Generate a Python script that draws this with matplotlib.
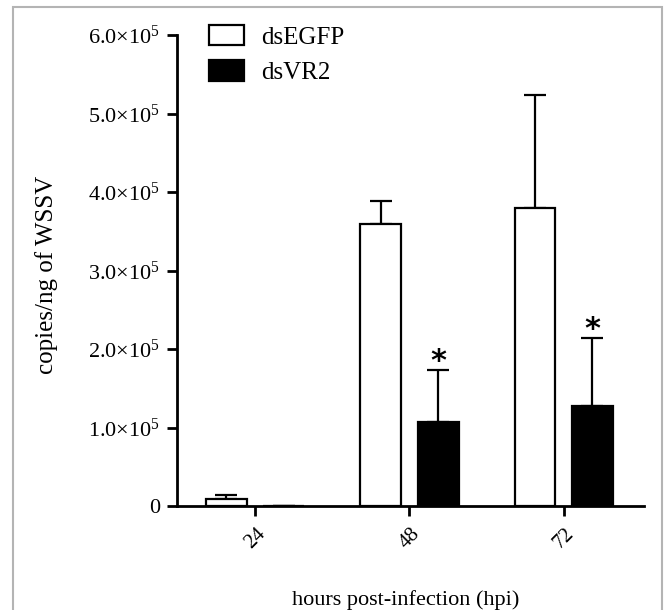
import numpy as np
import matplotlib
matplotlib.use("Agg")
import matplotlib.pyplot as plt
from matplotlib.ticker import FuncFormatter
from matplotlib.patches import Rectangle

plt.rcParams['font.family'] = ['Liberation Serif', 'DejaVu Serif']
plt.rcParams['mathtext.fontset'] = 'custom'
plt.rcParams['mathtext.rm'] = 'Liberation Serif'
plt.rcParams['mathtext.default'] = 'rm'

hpi = ['24', '48', '72']
egfp_mean = [0.09e5, 3.59e5, 3.79e5]
egfp_err = [0.05e5, 0.29e5, 1.45e5]
vr2_mean = [0.004e5, 1.07e5, 1.27e5]
vr2_err = [0.0, 0.66e5, 0.87e5]
significant = [False, True, True]

fig = plt.figure(figsize=(6.68, 6.10), dpi=100)
ax = fig.add_axes([177 / 668, 1 - 506 / 610, (644 - 177) / 668, (506 - 35) / 610])

# grey frame around the figure
fig.patches.append(Rectangle((13 / 668, -0.05), (662 - 13) / 668, 1.05 - 7 / 610,
                             transform=fig.transFigure, fill=False,
                             edgecolor='#b4b4b4', linewidth=1.5))

x = np.arange(len(hpi))
w = 0.265
off = 0.186
lw = 1.6

ax.bar(x - off, egfp_mean, w, color='white', edgecolor='black', linewidth=lw,
       label='dsEGFP', zorder=2)
ax.bar(x + off, vr2_mean, w, color='black', edgecolor='black', linewidth=lw,
       label='dsVR2', zorder=2)
ax.errorbar(x - off, egfp_mean, yerr=[np.zeros(3), egfp_err], fmt='none',
            ecolor='black', elinewidth=lw, capsize=8, capthick=lw, zorder=1)
ax.errorbar(x + off, vr2_mean, yerr=[np.zeros(3), vr2_err], fmt='none',
            ecolor='black', elinewidth=lw, capsize=8, capthick=lw, zorder=1)

for i in range(len(hpi)):
    if significant[i]:
        ax.annotate('*', (x[i] + off, vr2_mean[i] + vr2_err[i]),
                    xytext=(0, -4), textcoords='offset points',
                    ha='center', va='bottom', fontsize=22, fontweight='bold',
                    family='DejaVu Sans')

ax.set_xlim(-0.505, 2.52)
ax.set_ylim(0, 6e5)
ax.set_yticks(np.arange(0, 6.01e5, 1e5))
ax.yaxis.set_major_formatter(FuncFormatter(
    lambda v, p: '0' if v == 0 else f'{v / 1e5:.1f}\u00d710$^{{5}}$'))
ax.set_xticks(x)
ax.set_xticklabels(hpi, rotation=45, fontsize=15)

for s in ['top', 'right']:
    ax.spines[s].set_visible(False)
for s in ['left', 'bottom']:
    ax.spines[s].set_linewidth(2)
ax.tick_params(axis='both', direction='out', width=2, length=7, color='black')
ax.tick_params(axis='y', labelsize=16, pad=5)
ax.tick_params(axis='x', pad=6)

ax.set_ylabel('copies/ng of WSSV', fontsize=18)
ax.yaxis.set_label_coords(-0.255, 0.49)
ax.set_xlabel('hours post-infection (hpi)', fontsize=16)
ax.xaxis.set_label_coords(0.49, -0.178)

ax.legend(loc='upper left', bbox_to_anchor=(0.02, 1.07), frameon=False,
          fontsize=18, handlelength=1.4, handleheight=0.9, handletextpad=0.7,
          labelspacing=0.45)

fig.savefig('out.png', dpi=100)
